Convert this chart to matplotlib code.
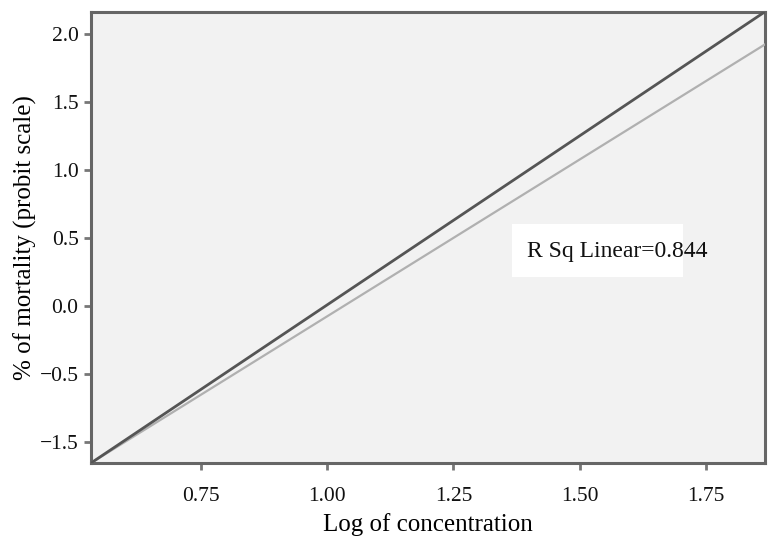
import matplotlib
matplotlib.use("Agg")
import matplotlib.pyplot as plt
import numpy as np

plt.rcParams["font.family"] = ["Liberation Serif", "DejaVu Serif"]

# data (y in plotted position units)
x_fit = [0.532, 1.867]
y_dark = [-1.155, 2.16]
y_light = [-1.155, 1.92]

xticks = [0.75, 1.00, 1.25, 1.50, 1.75]
xtick_labels = ["0.75", "1.00", "1.25", "1.50", "1.75"]
yticks = [-1.0, -0.5, 0.0, 0.5, 1.0, 1.5, 2.0]
ytick_labels = ["\u22121.5", "\u22120.5", "0.0", "0.5", "1.0", "1.5", "2.0"]
r2_text = "R Sq Linear=0.844"

fig = plt.figure(figsize=(7.78, 5.4), dpi=100)
ax = fig.add_axes([0.117, 0.1426, 0.866, 0.8354])
ax.set_facecolor("#f2f2f2")

ax.plot(x_fit, y_light, color="#b0b0b0", linewidth=1.6, zorder=3)
ax.plot(x_fit, y_dark, color="#555555", linewidth=2.0, zorder=4)

ax.set_xlim(x_fit[0], x_fit[1])
ax.set_ylim(y_dark[0], y_dark[1])

ax.set_xticks(xticks)
ax.set_xticklabels(xtick_labels)
ax.set_yticks(yticks)
ax.set_yticklabels(ytick_labels)
ax.tick_params(axis="both", direction="out", length=5, width=2, color="#777777",
               labelsize=15.5, labelcolor="#111111")
ax.tick_params(axis="x", pad=12)
ax.tick_params(axis="y", pad=4)

for s in ax.spines.values():
    s.set_color("#666666")
    s.set_linewidth(2.2)

ax.set_xlabel("Log of concentration", fontsize=18, labelpad=5)
ax.set_ylabel("% of mortality (probit scale)", fontsize=18, labelpad=2)

# white label box (narrower than its text, as in the original)
ax.add_patch(plt.Rectangle((0.625, 0.412), 0.253, 0.118, transform=ax.transAxes,
                           facecolor="white", edgecolor="none", zorder=5))
ax.text(0.647, 0.468, r2_text, transform=ax.transAxes, fontsize=17,
        va="center", ha="left", color="#111111", zorder=6)

fig.savefig("out.png", dpi=100)
